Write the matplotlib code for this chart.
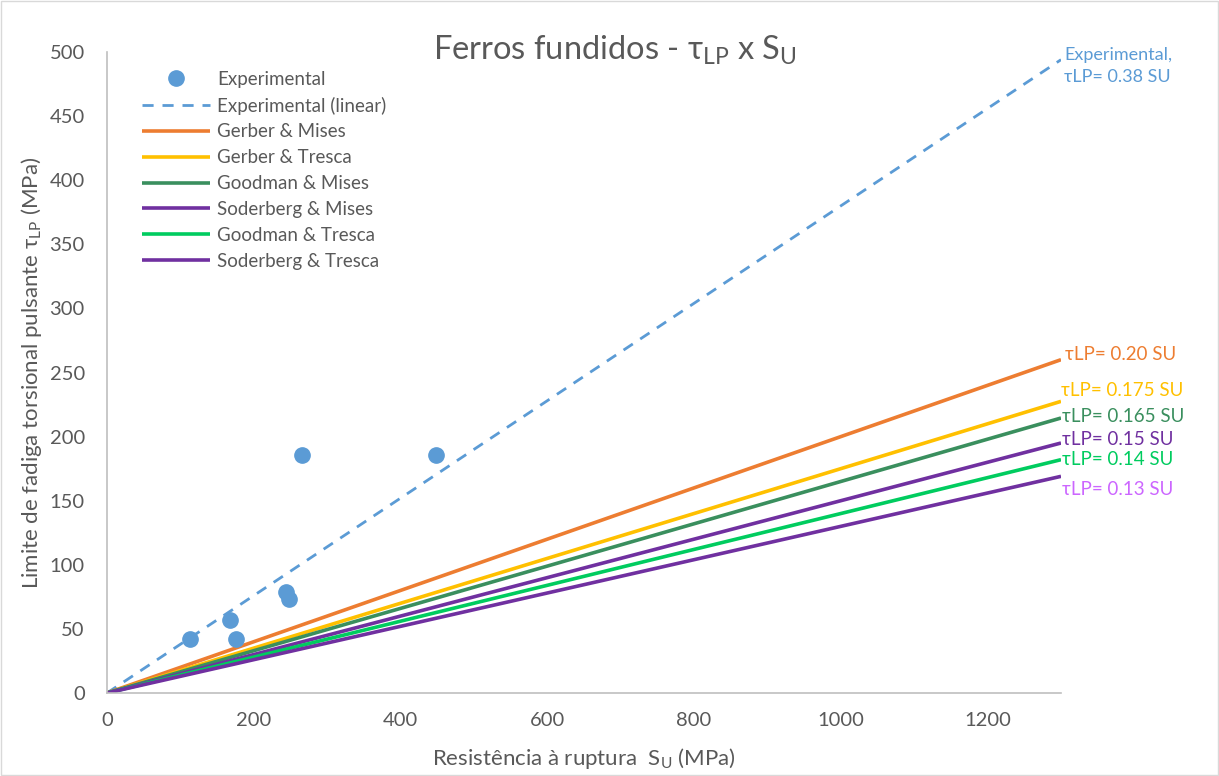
import matplotlib
matplotlib.use("Agg")
import matplotlib.pyplot as plt
import numpy as np
from matplotlib.patches import Rectangle

plt.rcParams['font.family'] = ['Lato', 'Noto Sans', 'DejaVu Sans']
plt.rcParams['mathtext.fontset'] = 'custom'
plt.rcParams['mathtext.rm'] = 'Lato'
plt.rcParams['mathtext.it'] = 'Lato:italic'
plt.rcParams['mathtext.fallback'] = 'stixsans'

# Data
exp_su = [113, 167, 176, 244, 248, 266, 448]
exp_tau = [42, 57, 42, 79, 73, 186, 186]
exp_slope = 0.38
x_range = [0, 1300]

criteria = ["Gerber & Mises", "Gerber & Tresca", "Goodman & Mises",
            "Soderberg & Mises", "Goodman & Tresca", "Soderberg & Tresca"]
slopes = [0.20, 0.175, 0.165, 0.15, 0.14, 0.13]
slope_labels = ["τLP= 0.20 SU", "τLP= 0.175 SU", "τLP= 0.165 SU",
                "τLP= 0.15 SU", "τLP= 0.14 SU", "τLP= 0.13 SU"]
line_colors = ["#ED7D31", "#FFC000", "#3A8F5E", "#7030A0", "#00CC5F", "#7030A0"]
label_colors = ["#ED7D31", "#FFC000", "#3A8F5E", "#7030A0", "#00CC5F", "#CC66FF"]
label_y = [264, 236, 216, 198, 182, 159]
label_dx = [5, 0, 2, 2, 2, 2]

xticks = [0, 200, 400, 600, 800, 1000, 1200]
yticks = [0, 50, 100, 150, 200, 250, 300, 350, 400, 450, 500]

fig = plt.figure(figsize=(12.19, 7.76), dpi=100)
ax = fig.add_axes([107/1219, 1-693/776, (1061-107)/1219, (693-52)/776])

gray = "#595959"
blue = "#5B9BD5"

ax.plot(exp_su, exp_tau, 'o', color=blue, markersize=11, label="Experimental", zorder=5)
xr = np.array(x_range, dtype=float)
ax.plot(xr, exp_slope*xr, '--', color=blue, lw=2, dashes=(4, 3.2), label="Experimental (linear)")
for name, s, c in zip(criteria, slopes, line_colors):
    ax.plot(xr, s*xr, '-', color=c, lw=2.6, label=name, solid_capstyle='butt')

ax.set_xlim(0, 1300)
ax.set_ylim(0, 500)
ax.set_xticks(xticks)
ax.set_yticks(yticks)
ax.tick_params(length=0, labelsize=14.5, colors=gray)
ax.tick_params(axis='x', pad=14)
ax.tick_params(axis='y', pad=16)
for sp in ['top', 'right']:
    ax.spines[sp].set_visible(False)
for sp in ['left', 'bottom']:
    ax.spines[sp].set_color("#BFBFBF")
    ax.spines[sp].set_linewidth(1.2)

ax.set_xlabel(r"Resistência à ruptura  S$_\mathrm{U}$ (MPa)", fontsize=16, color=gray, labelpad=12)
ax.set_ylabel(r"Limite de fadiga torsional pulsante τ$_\mathrm{LP}$ (MPa)", fontsize=16, color=gray, labelpad=4)

fig.text(615/1219, 1-50/776, r"Ferros fundidos - τ$_\mathrm{LP}$ x S$_\mathrm{U}$", fontsize=23.5,
         color=gray, ha='center', va='center')

leg = ax.legend(loc='upper left', bbox_to_anchor=(0.019, 0.997), frameon=False, fontsize=13.5,
                handlelength=3.6, labelspacing=0.47, handletextpad=0.4, labelcolor=gray)

# right-hand labels
ax.annotate("Experimental,\nτLP= 0.38 SU", xy=(1300, exp_slope*1300), xytext=(1304, 489),
            textcoords='data', color=blue, fontsize=13, ha='left', va='center',
            annotation_clip=False, linespacing=1.45)
for lab, c, y, dx in zip(slope_labels, label_colors, label_y, label_dx):
    ax.text(1300 + dx, y, lab, color=c, fontsize=13.5, ha='left', va='center', clip_on=False)

fig.patches.append(Rectangle((0.001, 0.001), 0.998, 0.998, transform=fig.transFigure,
                             fill=False, edgecolor="#D9D9D9", lw=1))

fig.savefig("out.png", dpi=100)
